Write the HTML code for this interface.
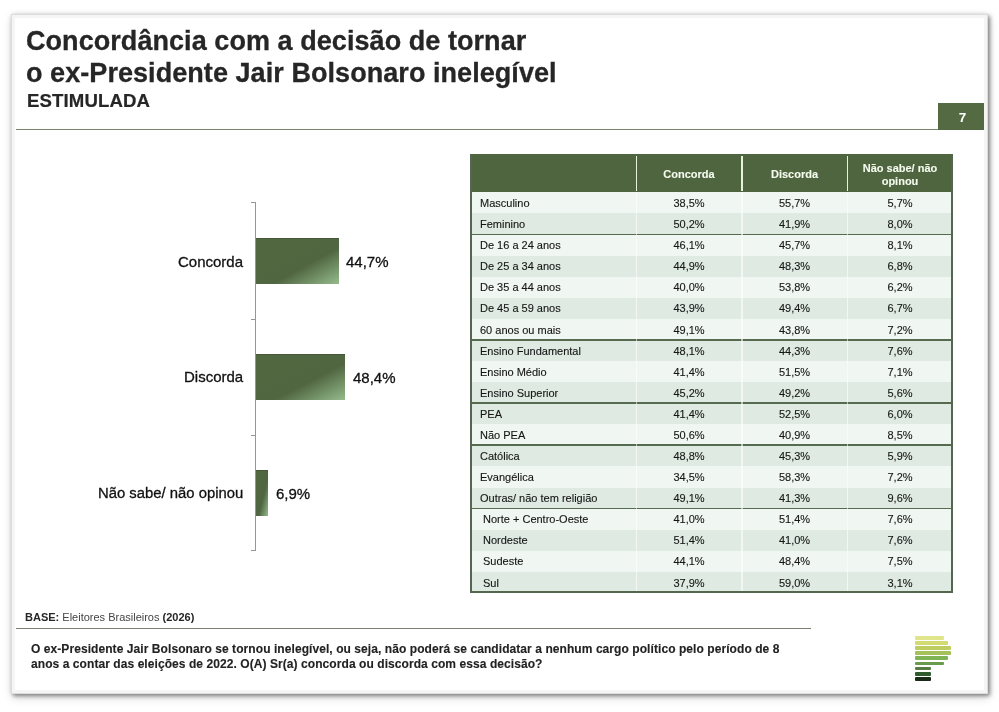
<!DOCTYPE html>
<html><head><meta charset="utf-8">
<style>
*{margin:0;padding:0;box-sizing:border-box}
html,body{width:999px;height:712px;background:#fff;overflow:hidden;font-family:"Liberation Sans",sans-serif;color:#262626}
.card{position:absolute;left:11px;top:14px;width:977px;height:680px;background:#fff;border:1px solid #dcdcdc;box-shadow:2px 2px 4px rgba(0,0,0,.42),1px 4px 10px rgba(0,0,0,.13),0 0 6px rgba(0,0,0,.08);}
.card:after{content:"";position:absolute;left:0;top:0;right:0;bottom:0;border:3.5px solid #f5f5f5}
.abs{position:absolute;white-space:nowrap;will-change:transform}
.t1{left:26.2px;font-weight:bold;font-size:27px;line-height:32px;letter-spacing:.06px;-webkit-text-stroke:.3px #262626}
.t2{left:26.5px;top:94.3px;font-weight:bold;font-size:18.6px;line-height:14px;letter-spacing:.12px;-webkit-text-stroke:.2px #262626}
.hline{position:absolute;left:16px;top:128.6px;width:924px;height:1.6px;background:#75866a}
.pg{position:absolute;will-change:transform;left:938px;top:103px;width:46px;height:27px;background:#536a42;color:#fff;font-weight:bold;font-size:13.5px;text-align:center;line-height:27px;padding-left:3px;padding-top:.8px}
.axis{position:absolute;left:255px;top:202px;width:1.3px;height:349px;background:#969696}
.tick{position:absolute;left:251px;width:5px;height:1.3px;background:#969696}
.bar{position:absolute;left:256px;height:46px;background:linear-gradient(to bottom right,#52683f 0%,#506641 60%,#94bb8c 100%);box-shadow:inset 0 1px 0 rgba(60,70,50,.5)}
.lab{font-size:15px;line-height:15px;color:#111;-webkit-text-stroke:.3px #111}
.rl{right:756.2px;text-align:right}
.tbl{position:absolute;left:470px;top:153.5px;width:483px;height:438.5px;will-change:transform}
.hdr{position:absolute;left:0;top:0;width:483px;height:38.4px;background:#4f6540}
.hsep{position:absolute;top:2px;width:1.6px;height:35px;background:#e6f3dc}
.htx{position:absolute;color:#f5fbef;font-weight:bold;font-size:11px;text-align:center;line-height:13.5px;-webkit-text-stroke:.1px #f5fbef}
.row{position:absolute;left:0;width:483px;height:21.08px}
.L{background:#f0f6f1}
.D{background:#dfebe2}
.c{position:absolute;top:0.7px;height:21.08px;line-height:21.08px;font-size:11px;color:#161616;-webkit-text-stroke:.12px #161616}
.c0{left:10px}
.c1{left:166px;width:106px;text-align:center}
.c2{left:272px;width:105px;text-align:center}
.c3{left:377px;width:106px;text-align:center}
.vsep{position:absolute;top:38.4px;width:1.5px;height:400.5px;background:rgba(255,255,255,.6)}
.gsep{position:absolute;left:0;width:483px;height:1.8px;background:#566a4f}
.bl{position:absolute;top:0;width:2px;height:438.9px;background:#55664f}
.bb{position:absolute;left:0;top:437.2px;width:483px;height:1.8px;background:#55664f}
.base{left:25px;top:611.5px;font-size:11px;line-height:11px;color:#444}
.base b{color:#262626}
.bline{position:absolute;left:16px;top:627.7px;width:795px;height:1.6px;background:#7b8170}
.q{left:31px;top:642px;font-weight:bold;font-size:12px;line-height:14.9px;color:#222;letter-spacing:.07px;-webkit-text-stroke:.12px #222}
.logo div{position:absolute;left:915px;height:3.9px;border-radius:1px}
</style></head><body>
<div class="card"></div>
<div class="abs t1" style="top:24.8px">Concordância com a decisão de tornar</div>
<div class="abs t1" style="top:57.2px">o ex-Presidente Jair Bolsonaro inelegível</div>
<div class="abs t2">ESTIMULADA</div>
<div class="hline"></div>
<div class="pg">7</div>

<div class="axis"></div>
<div class="tick" style="top:202px"></div>
<div class="tick" style="top:318.5px"></div>
<div class="tick" style="top:434.5px"></div>
<div class="tick" style="top:550px"></div>
<div class="bar" style="top:238px;width:83px"></div>
<div class="bar" style="top:354px;width:89px"></div>
<div class="bar" style="top:470px;width:12px"></div>
<div class="abs lab rl" style="top:253.5px">Concorda</div>
<div class="abs lab rl" style="top:369.3px">Discorda</div>
<div class="abs lab rl" style="top:485.5px;font-size:14.85px">Não sabe/ não opinou</div>
<div class="abs lab" style="left:346px;top:253.6px">44,7%</div>
<div class="abs lab" style="left:352.5px;top:369.6px">48,4%</div>
<div class="abs lab" style="left:275.5px;top:485.5px">6,9%</div>

<div class="tbl">
<div class="hdr">
<div class="hsep" style="left:165.5px"></div>
<div class="hsep" style="left:271px"></div>
<div class="hsep" style="left:376.5px"></div>
<div class="htx" style="left:166px;width:106px;top:14.2px">Concorda</div>
<div class="htx" style="left:272px;width:105px;top:14.2px">Discorda</div>
<div class="htx" style="left:377px;width:106px;top:7.9px">Não sabe/ não<br>opinou</div>
</div>
<div class="row L" style="top:38.40px"><div class="c c0">Masculino</div><div class="c c1">38,5%</div><div class="c c2">55,7%</div><div class="c c3">5,7%</div></div>
<div class="row D" style="top:59.48px"><div class="c c0">Feminino</div><div class="c c1">50,2%</div><div class="c c2">41,9%</div><div class="c c3">8,0%</div></div>
<div class="row L" style="top:80.56px"><div class="c c0">De 16 a 24 anos</div><div class="c c1">46,1%</div><div class="c c2">45,7%</div><div class="c c3">8,1%</div></div>
<div class="row D" style="top:101.64px"><div class="c c0">De 25 a 34 anos</div><div class="c c1">44,9%</div><div class="c c2">48,3%</div><div class="c c3">6,8%</div></div>
<div class="row L" style="top:122.72px"><div class="c c0">De 35 a 44 anos</div><div class="c c1">40,0%</div><div class="c c2">53,8%</div><div class="c c3">6,2%</div></div>
<div class="row D" style="top:143.80px"><div class="c c0">De 45 a 59 anos</div><div class="c c1">43,9%</div><div class="c c2">49,4%</div><div class="c c3">6,7%</div></div>
<div class="row L" style="top:164.88px"><div class="c c0">60 anos ou mais</div><div class="c c1">49,1%</div><div class="c c2">43,8%</div><div class="c c3">7,2%</div></div>
<div class="row D" style="top:185.96px"><div class="c c0">Ensino Fundamental</div><div class="c c1">48,1%</div><div class="c c2">44,3%</div><div class="c c3">7,6%</div></div>
<div class="row L" style="top:207.04px"><div class="c c0">Ensino Médio</div><div class="c c1">41,4%</div><div class="c c2">51,5%</div><div class="c c3">7,1%</div></div>
<div class="row D" style="top:228.12px"><div class="c c0">Ensino Superior</div><div class="c c1">45,2%</div><div class="c c2">49,2%</div><div class="c c3">5,6%</div></div>
<div class="row D" style="top:249.20px"><div class="c c0">PEA</div><div class="c c1">41,4%</div><div class="c c2">52,5%</div><div class="c c3">6,0%</div></div>
<div class="row L" style="top:270.28px"><div class="c c0">Não PEA</div><div class="c c1">50,6%</div><div class="c c2">40,9%</div><div class="c c3">8,5%</div></div>
<div class="row D" style="top:291.36px"><div class="c c0">Católica</div><div class="c c1">48,8%</div><div class="c c2">45,3%</div><div class="c c3">5,9%</div></div>
<div class="row L" style="top:312.44px"><div class="c c0">Evangélica</div><div class="c c1">34,5%</div><div class="c c2">58,3%</div><div class="c c3">7,2%</div></div>
<div class="row D" style="top:333.52px"><div class="c c0">Outras/ não tem religião</div><div class="c c1">49,1%</div><div class="c c2">41,3%</div><div class="c c3">9,6%</div></div>
<div class="row L" style="top:354.60px"><div class="c c0" style="left:13px">Norte + Centro-Oeste</div><div class="c c1">41,0%</div><div class="c c2">51,4%</div><div class="c c3">7,6%</div></div>
<div class="row D" style="top:375.68px"><div class="c c0" style="left:13px">Nordeste</div><div class="c c1">51,4%</div><div class="c c2">41,0%</div><div class="c c3">7,6%</div></div>
<div class="row L" style="top:396.76px"><div class="c c0" style="left:13px">Sudeste</div><div class="c c1">44,1%</div><div class="c c2">48,4%</div><div class="c c3">7,5%</div></div>
<div class="row D" style="top:417.84px"><div class="c c0" style="left:13px">Sul</div><div class="c c1">37,9%</div><div class="c c2">59,0%</div><div class="c c3">3,1%</div></div>
<div class="gsep" style="top:79.66px"></div>
<div class="gsep" style="top:185.06px"></div>
<div class="gsep" style="top:248.30px"></div>
<div class="gsep" style="top:290.46px"></div>
<div class="gsep" style="top:353.70px"></div>
<div class="vsep" style="left:165.5px"></div>
<div class="vsep" style="left:271px"></div>
<div class="vsep" style="left:376.5px"></div>
<div class="bl" style="left:0"></div>
<div class="bl" style="left:481px"></div>
<div class="bb"></div>
</div>

<div class="abs base"><b>BASE:</b> Eleitores Brasileiros <b>(2026)</b></div>
<div class="bline"></div>
<div class="abs q">O ex-Presidente Jair Bolsonaro se tornou inelegível, ou seja, não poderá se candidatar a nenhum cargo político pelo período de 8<br>anos a contar das eleições de 2022. O(A) Sr(a) concorda ou discorda com essa decisão?</div>

<div class="logo">
<div style="top:636.3px;width:28.8px;background:#e0e48a"></div>
<div style="top:641.3px;width:33.3px;background:#d2da72"></div>
<div style="top:646.3px;width:35.6px;background:#bdcd60"></div>
<div style="top:651.4px;width:35.6px;background:#a4c15a"></div>
<div style="top:656.4px;width:33.3px;background:#80b354"></div>
<div style="top:661.5px;width:28.8px;background:#699a4e"></div>
<div style="top:666.6px;width:16px;background:#577c42"></div>
<div style="top:671.7px;width:16px;background:#2f5b2d"></div>
<div style="top:676.7px;width:16px;background:#172b16"></div>
</div>
</body></html>
